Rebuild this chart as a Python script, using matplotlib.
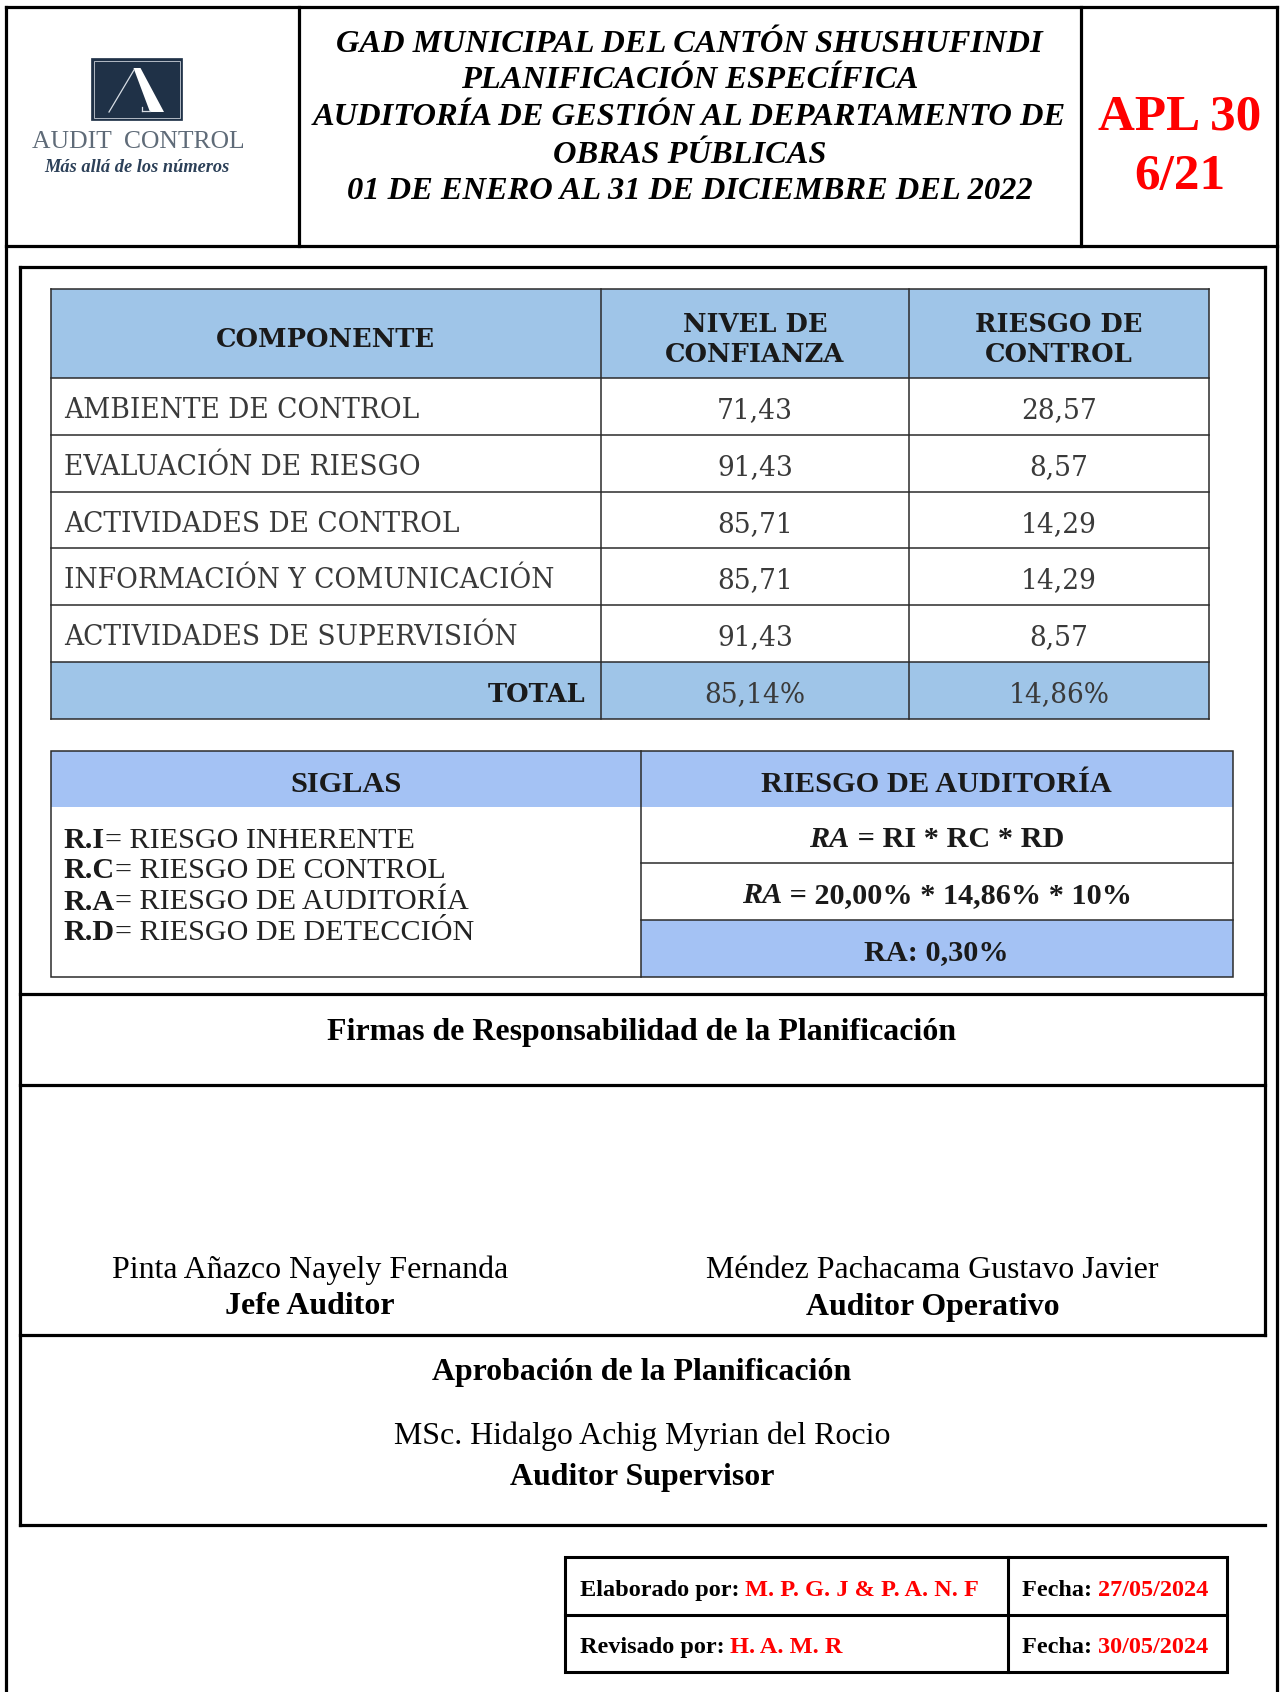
import matplotlib
matplotlib.use('Agg')
import matplotlib.pyplot as plt
from matplotlib.patches import Rectangle, Polygon

# ---------------- data ----------------
title_lines = ["GAD MUNICIPAL DEL CANTÓN SHUSHUFINDI",
               "PLANIFICACIÓN ESPECÍFICA",
               "AUDITORÍA DE GESTIÓN AL DEPARTAMENTO DE",
               "OBRAS PÚBLICAS",
               "01 DE ENERO AL 31 DE DICIEMBRE DEL 2022"]
code_lines = ["APL 30", "6/21"]
logo_name = "AUDIT  CONTROL"
logo_slogan = "Más allá de los números"

col_headers = ["COMPONENTE", "NIVEL DE\nCONFIANZA", "RIESGO DE\nCONTROL"]
componentes = ["AMBIENTE DE CONTROL", "EVALUACIÓN DE RIESGO", "ACTIVIDADES DE CONTROL",
               "INFORMACIÓN Y COMUNICACIÓN", "ACTIVIDADES DE SUPERVISIÓN"]
nivel_confianza = ["71,43", "91,43", "85,71", "85,71", "91,43"]
riesgo_control = ["28,57", "8,57", "14,29", "14,29", "8,57"]
total_row = ["TOTAL", "85,14%", "14,86%"]

siglas_header = "SIGLAS"
siglas_keys = ["R.I", "R.C", "R.A", "R.D"]
siglas_vals = ["= RIESGO INHERENTE", "= RIESGO DE CONTROL",
               "= RIESGO DE AUDITORÍA", "= RIESGO DE DETECCIÓN"]
riesgo_header = "RIESGO DE AUDITORÍA"
formula_lines = [" = RI * RC * RD", " = 20,00% * 14,86% * 10%"]
ra_result = "RA: 0,30%"

firmas_title = "Firmas de Responsabilidad de la Planificación"
firmantes = ["Pinta Añazco Nayely Fernanda", "Méndez Pachacama Gustavo Javier"]
cargos = ["Jefe Auditor", "Auditor Operativo"]
aprob_title = "Aprobación de la Planificación"
aprob_name = "MSc. Hidalgo Achig Myrian del Rocio"
aprob_cargo = "Auditor Supervisor"

pie_labels = ["Elaborado por: ", "Revisado por: "]
pie_values = ["M. P. G. J & P. A. N. F", "H. A. M. R"]
pie_fechas = ["27/05/2024", "30/05/2024"]

# ---------------- setup ----------------
W, H = 1280, 1692
fig = plt.figure(figsize=(W / 100, H / 100), dpi=100)
ax = fig.add_axes([0, 0, 1, 1])
ax.set_xlim(0, W)
ax.set_ylim(H, 0)
ax.axis('off')
R = fig.canvas.get_renderer()

SERIF = 'Liberation Serif'
WIDE = 'DejaVu Serif'
RED = '#ff0000'
BLUE1 = '#9fc5e8'
BLUE2 = '#a4c2f4'
DY = 4.0


def txt(x, y, s, **kw):
    return ax.text(x, y + DY, s, **kw)


def width_of(s, size, **kw):
    t = ax.text(0, 0, s + "x", fontsize=size, **kw)
    w1 = t.get_window_extent(R).width
    t.remove()
    t = ax.text(0, 0, "x", fontsize=size, **kw)
    w2 = t.get_window_extent(R).width
    t.remove()
    return w1 - w2


def size_for(s, target, **kw):
    return 20 * target / width_of(s, 20, **kw)


def runs(x, y, parts, size, ha='left'):
    widths = [width_of(s, size, **kw) for s, kw in parts]
    total = sum(widths)
    if ha == 'center':
        x = x - total / 2
    elif ha == 'right':
        x = x - total
    for (s, kw), w in zip(parts, widths):
        txt(x, y, s, fontsize=size, ha='left', va='center', **kw)
        x += w


def hline(x0, x1, y, lw, c='black'):
    ax.plot([x0, x1], [y, y], color=c, lw=lw, solid_capstyle='projecting')


def vline(x, y0, y1, lw, c='black'):
    ax.plot([x, x], [y0, y1], color=c, lw=lw, solid_capstyle='projecting')


# ---------------- outer frame & header ----------------
LW = 2.3
vline(5.5, 7.5, H, LW)
vline(1277, 7.5, H, LW)
hline(5.5, 1277, 7.5, LW)
hline(5.5, 1277, 246, LW)
vline(299, 7.5, 246, LW)
vline(1081, 7.5, 246, LW)

# logo
ax.add_patch(Rectangle((90.7, 58.5), 91.5, 62, facecolor='#1f3147', edgecolor='#1f3147', lw=0.5))
ax.add_patch(Rectangle((93.5, 61.3), 86, 56.4, facecolor='none', edgecolor='#c9d0d8', lw=0.6))
ax.add_patch(Polygon([(133.5, 68), (140.5, 68), (164, 112), (150, 112)], closed=True,
                     facecolor='white', edgecolor='none'))
ax.plot([134, 109], [70, 112], color='#d7dde4', lw=0.9)
ax.plot([142, 150], [111.5, 111.5], color='#d7dde4', lw=0.9)
ax.plot([142, 142], [107, 111.5], color='#d7dde4', lw=0.9)
s = size_for(logo_name, 213, family=SERIF)
txt(138, 137.5, logo_name, fontsize=s, family=SERIF, color='#5f6b78', ha='center', va='center')
s = size_for(logo_slogan, 176, family=SERIF, style='italic', weight='bold')
txt(137, 163, logo_slogan, fontsize=s * 1.05, family=SERIF, style='italic', weight='bold',
    color='#2c4058', ha='center', va='center')

# title
ts = size_for(title_lines[2], 752, family=SERIF, style='italic', weight='bold')
for line, y in zip(title_lines, [41, 76.6, 113.3, 151.1, 187.8]):
    txt(689.5, y, line, fontsize=ts, family=SERIF, style='italic', weight='bold',
        ha='center', va='center', color='black')

cs = size_for(code_lines[0], 163, family=SERIF, weight='bold')
for line, y in zip(code_lines, [113.3, 172.7]):
    txt(1179.5, y, line, fontsize=cs, family=SERIF, weight='bold', color=RED,
        ha='center', va='center')

# ---------------- inner frame ----------------
IL, IR = 20, 1264.5
vline(IL, 266.6, 1525, LW)
vline(IR, 266.6, 1335, LW)
hline(IL, IR, 266.6, LW)
hline(IL, IR, 994, LW)
hline(IL, IR, 1085, LW)
hline(IL, IR, 1335, LW)
hline(IL, IR, 1525, LW)

# ---------------- table 1 ----------------
tx = [50.7, 601, 908.8, 1208.8]
ty = [289.3, 377.8, 435, 492.2, 548.3, 605.5, 661.6, 718.8]
TC = '#2b2b2b'
ax.add_patch(Rectangle((tx[0], ty[0]), tx[3] - tx[0], ty[1] - ty[0], facecolor=BLUE1, edgecolor='none'))
ax.add_patch(Rectangle((tx[0], ty[6]), tx[3] - tx[0], ty[7] - ty[6], facecolor=BLUE1, edgecolor='none'))
for y in ty:
    hline(tx[0], tx[3], y, 1.1, TC)
for x in tx:
    vline(x, ty[0], ty[7], 1.1, TC)

hs = size_for(col_headers[0], 218, family=WIDE, weight='bold')
txt((tx[0] + tx[1]) / 2, 335.6, col_headers[0], fontsize=hs, family=WIDE, weight='bold',
    color='#1a1a1a', ha='center', va='center')
for i, hdr in enumerate(col_headers[1:]):
    cx = (tx[i + 1] + tx[i + 2]) / 2
    for line, y in zip(hdr.split("\n"), [320.5, 351]):
        txt(cx, y, line, fontsize=hs, family=WIDE, weight='bold', color='#1a1a1a',
            ha='center', va='center')

ls = size_for(componentes[3], 490, family=WIDE)
for i in range(len(componentes)):
    yc = (ty[i + 1] + ty[i + 2]) / 2
    txt(63.7, yc, componentes[i], fontsize=ls, family=WIDE, color='#3a3a3a', ha='left', va='center')
    txt((tx[1] + tx[2]) / 2, yc, nivel_confianza[i], fontsize=ls, family=WIDE, color='#3a3a3a',
        ha='center', va='center')
    txt((tx[2] + tx[3]) / 2, yc, riesgo_control[i], fontsize=ls, family=WIDE, color='#3a3a3a',
        ha='center', va='center')
yc = (ty[6] + ty[7]) / 2
txt(586, yc, total_row[0], fontsize=hs, family=WIDE, weight='bold', color='#1a1a1a',
    ha='right', va='center')
txt((tx[1] + tx[2]) / 2, yc, total_row[1], fontsize=ls, family=WIDE, color='#3a3a3a',
    ha='center', va='center')
txt((tx[2] + tx[3]) / 2, yc, total_row[2], fontsize=ls, family=WIDE, color='#3a3a3a',
    ha='center', va='center')

# ---------------- table 2 ----------------
ux = [50.7, 641, 1232.5]
uy = [751.2, 807.3, 863.4, 919.6, 976.8]
ax.add_patch(Rectangle((ux[0], uy[0]), ux[2] - ux[0], uy[1] - uy[0], facecolor=BLUE2, edgecolor='none'))
ax.add_patch(Rectangle((ux[1], uy[3]), ux[2] - ux[1], uy[4] - uy[3], facecolor=BLUE2, edgecolor='none'))
ax.add_patch(Rectangle((ux[0], uy[0]), ux[2] - ux[0], uy[4] - uy[0], facecolor='none', edgecolor=TC, lw=1.1))
vline(ux[1], uy[0], uy[4], 1.1, TC)
hline(ux[1], ux[2], uy[2], 1.1, TC)
hline(ux[1], ux[2], uy[3], 1.1, TC)

h2 = size_for(riesgo_header, 350, family=SERIF, weight='bold')
txt((ux[0] + ux[1]) / 2, 780, siglas_header, fontsize=h2, family=SERIF, weight='bold',
    color='#1a1a1a', ha='center', va='center')
txt((ux[1] + ux[2]) / 2, 780, riesgo_header, fontsize=h2, family=SERIF, weight='bold',
    color='#1a1a1a', ha='center', va='center')

ss = 20 * 382 / (width_of(siglas_keys[1], 20, family=SERIF, weight='bold') +
                 width_of(siglas_vals[1], 20, family=SERIF))
for k, v, y in zip(siglas_keys, siglas_vals, [836.5, 866.7, 898, 929]):
    runs(63.7, y, [(k, dict(family=SERIF, weight='bold', color='#1a1a1a')),
                   (v, dict(family=SERIF, color='#222222'))], ss)

fs = 20 * 390 / (width_of("RA", 20, family=SERIF, weight='bold', style='italic') +
                 width_of(formula_lines[1], 20, family=SERIF, weight='bold'))
for line, y in zip(formula_lines, [835.3, 891.5]):
    runs((ux[1] + ux[2]) / 2, y, [("RA", dict(family=SERIF, weight='bold', style='italic', color='#1a1a1a')),
                                   (line, dict(family=SERIF, weight='bold', color='#1a1a1a'))], fs, ha='center')
txt((ux[1] + ux[2]) / 2, 949, ra_result, fontsize=fs, family=SERIF, weight='bold',
    color='#1a1a1a', ha='center', va='center')

# ---------------- firmas ----------------
fts = size_for(firmas_title, 629, family=SERIF, weight='bold')
txt(642, 1028.6, firmas_title, fontsize=fts, family=SERIF, weight='bold', ha='center', va='center')
ns = size_for(firmantes[1], 453, family=SERIF)
for name, cargo, cx in zip(firmantes, cargos, [310, 932.5]):
    txt(cx, 1266, name, fontsize=ns, family=SERIF, ha='center', va='center')
    txt(cx, 1303, cargo, fontsize=fts, family=SERIF, weight='bold', ha='center', va='center')

txt(642, 1368.5, aprob_title, fontsize=fts, family=SERIF, weight='bold', ha='center', va='center')
txt(642, 1432, aprob_name, fontsize=ns, family=SERIF, ha='center', va='center')
txt(642, 1474, aprob_cargo, fontsize=fts, family=SERIF, weight='bold', ha='center', va='center')

# ---------------- pie ----------------
px = [564.5, 1008, 1227]
py = [1557.5, 1614.6, 1672]
ax.add_patch(Rectangle((px[0], py[0]), px[2] - px[0], py[2] - py[0], facecolor='none', edgecolor='black', lw=2.2))
vline(px[1], py[0], py[2], 2.2)
hline(px[0], px[2], py[1], 2.2)
bold = dict(family=SERIF, weight='bold', color='black')
boldr = dict(family=SERIF, weight='bold', color=RED)
ps = 20 * 398 / (width_of(pie_labels[0], 20, **bold) + width_of(pie_values[0], 20, **boldr))
for lab, val, fe, y in zip(pie_labels, pie_values, pie_fechas, [1586.6, 1643.8]):
    runs(579.6, y, [(lab, bold), (val, boldr)], ps)
    runs(1022, y, [("Fecha: ", bold), (fe, boldr)], ps)

fig.savefig('out.png', dpi=100)
